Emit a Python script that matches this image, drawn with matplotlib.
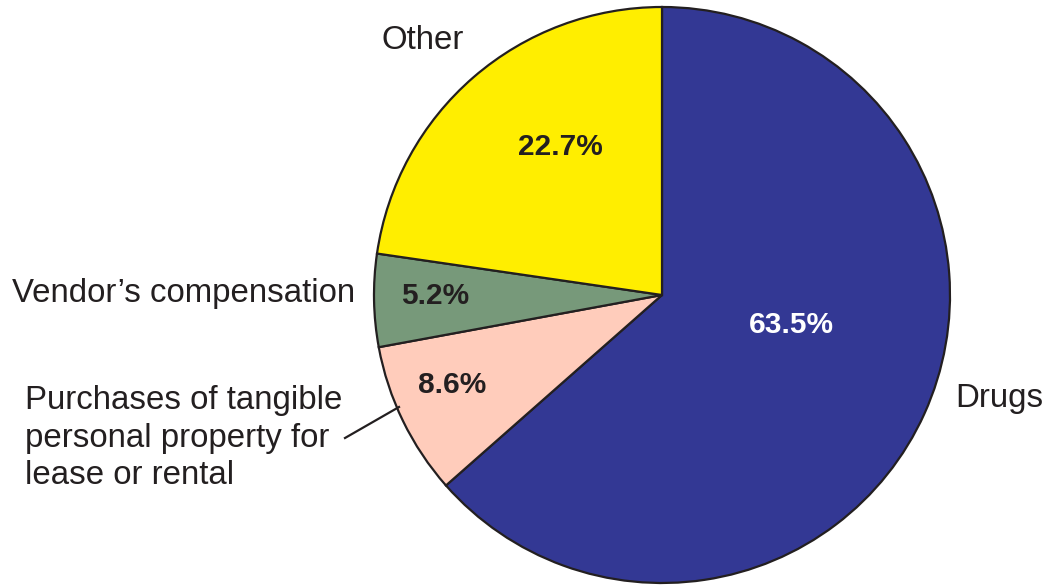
import matplotlib
matplotlib.use("Agg")
import matplotlib.pyplot as plt
import numpy as np

plt.rcParams["font.family"] = ["Liberation Sans", "DejaVu Sans"]

categories = ["Drugs", "Purchases of tangible\npersonal property for\nlease or rental",
              "Vendor\u2019s compensation", "Other"]
values = [63.5, 8.6, 5.2, 22.7]
pct_labels = ["63.5%", "8.6%", "5.2%", "22.7%"]
colors = ["#333894", "#FFCCBB", "#77997A", "#FFEE00"]
pct_colors = ["white", "#231F20", "#231F20", "#231F20"]

W, H = 1046, 588
cx, cy, R = 662, 295, 288

fig = plt.figure(figsize=(W / 100, H / 100), dpi=100)
ax = fig.add_axes([0, 0, 1, 1])
txt = "#231F20"

wedges, _ = ax.pie(values, colors=colors, startangle=90, counterclock=False,
                   radius=1, center=(0, 0),
                   wedgeprops=dict(edgecolor=txt, linewidth=1.6))
ax.set_xlim(-cx / R, (W - cx) / R)
ax.set_ylim(-(H - cy) / R, cy / R)
ax.set_aspect("equal")
ax.axis("off")

def px(x, y):
    return ((x - cx) / R, (cy - y) / R)

pct_pos = [(791, 325), (452, 385), (435, 296), (560, 147)]
for lab, (x, y), c in zip(pct_labels, pct_pos, pct_colors):
    ax.text(*px(x, y), lab, ha="center", va="center", fontsize=21.5,
            fontweight="bold", color=c)

fs = 23.8
ax.text(*px(955, 398), categories[0], ha="left", va="center", fontsize=fs, color=txt)
ax.text(*px(25, 438), categories[1], ha="left", va="center", fontsize=fs,
        color=txt, linespacing=1.27)
ax.text(*px(355, 293), categories[2], ha="right", va="center", fontsize=fs, color=txt)
ax.text(*px(423, 40), categories[3], ha="center", va="center", fontsize=fs, color=txt)

# leader line for Purchases label
x0, y0 = px(345, 438)
x1, y1 = px(399, 407)
ax.plot([x0, x1], [y0, y1], color=txt, linewidth=1.6)

fig.savefig("out.png", dpi=100)
